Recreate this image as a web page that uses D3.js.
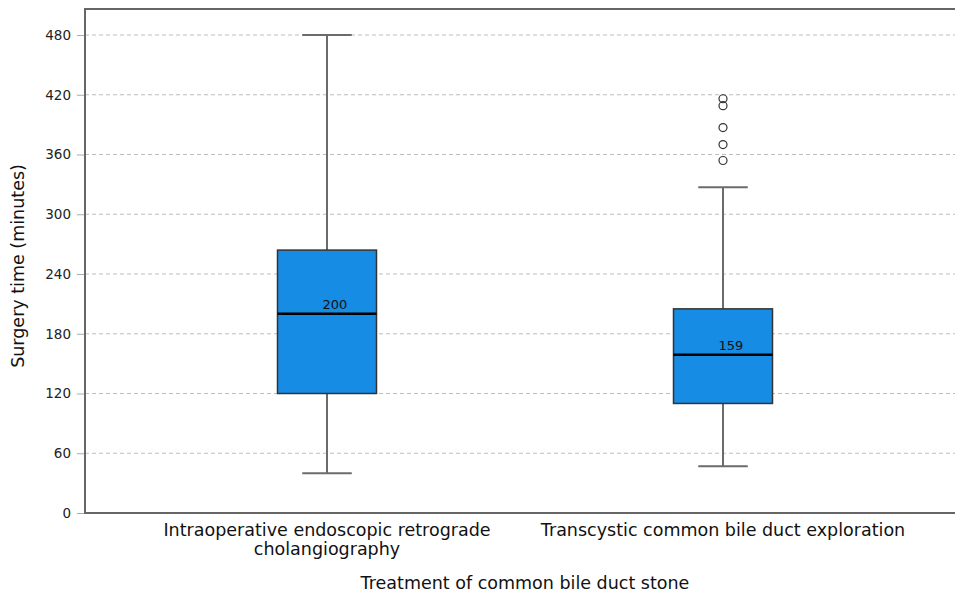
<!DOCTYPE html>
<html><head><meta charset="utf-8">
<script src="https://cdn.jsdelivr.net/npm/d3@7"></script>
<style>body{margin:0;background:#fff}svg{display:block}</style>
</head><body>
<script>
const categories = [["Intraoperative endoscopic retrograde","cholangiography"],["Transcystic common bile duct exploration"]];
const q1 = [120, 110];
const median = [200, 159];
const q3 = [264, 205];
const whiskerLow = [40, 47];
const whiskerHigh = [480, 327];
const outliers = [[], [416, 409, 387, 370, 354]];
const yTicks = [0, 60, 120, 180, 240, 300, 360, 420, 480];

const W = 955, H = 595;
const svg = d3.select("body").append("svg").attr("width", W).attr("height", H);
const font = "'DejaVu Sans', sans-serif";
const pLeft = 85, pTop = 9, pBottom = 513, pRight = 956;
const y = d3.scaleLinear().domain([0, 480]).range([pBottom, 35]);
const x = d3.scaleBand().domain(d3.range(categories.length)).range([129, 921]).paddingInner(0.75).paddingOuter(0.375);

// grid
svg.append("g").selectAll("line").data(yTicks.filter(d => d > 0)).join("line")
  .attr("x1", pLeft).attr("x2", pRight).attr("y1", d => y(d)).attr("y2", d => y(d))
  .attr("stroke", "#bdbdbd").attr("stroke-width", 1).attr("stroke-dasharray", "4,3");

// y axis
const yAxis = d3.axisLeft(y).tickValues(yTicks).tickSize(8).tickPadding(6);
const ga = svg.append("g").attr("transform", `translate(${pLeft},0)`).call(yAxis);
ga.select(".domain").remove();
ga.selectAll(".tick line").attr("stroke", "#aaa");
ga.selectAll(".tick text").attr("font-family", font).attr("font-size", 13.5).attr("fill", "#222");

// frame
svg.append("path").attr("d", `M${pRight},${pTop}H${pLeft}V${pBottom}H${pRight}`)
  .attr("fill", "none").attr("stroke", "#666").attr("stroke-width", 2);

// boxes
const g = svg.append("g");
categories.forEach((c, i) => {
  const cx = x(i) + x.bandwidth() / 2, bw = x.bandwidth();
  const cap = bw / 2;
  const wc = "#6b6b6b";
  g.append("line").attr("x1", cx).attr("x2", cx).attr("y1", y(whiskerHigh[i])).attr("y2", y(q3[i])).attr("stroke", wc).attr("stroke-width", 2);
  g.append("line").attr("x1", cx).attr("x2", cx).attr("y1", y(q1[i])).attr("y2", y(whiskerLow[i])).attr("stroke", wc).attr("stroke-width", 2);
  g.append("line").attr("x1", cx - cap/2).attr("x2", cx + cap/2).attr("y1", y(whiskerHigh[i])).attr("y2", y(whiskerHigh[i])).attr("stroke", wc).attr("stroke-width", 2);
  g.append("line").attr("x1", cx - cap/2).attr("x2", cx + cap/2).attr("y1", y(whiskerLow[i])).attr("y2", y(whiskerLow[i])).attr("stroke", wc).attr("stroke-width", 2);
  g.append("rect").attr("x", x(i)).attr("width", bw).attr("y", y(q3[i])).attr("height", y(q1[i]) - y(q3[i]))
    .attr("fill", "#168ce5").attr("stroke", "#333").attr("stroke-width", 1.5);
  g.append("line").attr("x1", x(i)).attr("x2", x(i) + bw).attr("y1", y(median[i])).attr("y2", y(median[i])).attr("stroke", "#000").attr("stroke-width", 2.5);
  g.append("text").attr("x", cx + 8).attr("y", y(median[i]) - 5).attr("text-anchor", "middle")
    .attr("font-family", font).attr("font-size", 13).attr("fill", "#111").text(median[i]);
  g.selectAll(null).data(outliers[i]).join("circle").attr("cx", cx).attr("cy", d => y(d)).attr("r", 4)
    .attr("fill", "none").attr("stroke", "#333").attr("stroke-width", 1.2);
  const t = g.append("text").attr("x", cx).attr("y", 536).attr("text-anchor", "middle")
    .attr("font-family", font).attr("font-size", 17.5).attr("fill", "#111");
  c.forEach((line, k) => t.append("tspan").attr("x", cx).attr("dy", k === 0 ? 0 : 19).text(line));
});

svg.append("text").attr("x", 525).attr("y", 589).attr("text-anchor", "middle")
  .attr("font-family", font).attr("font-size", 17.5).attr("fill", "#111").text("Treatment of common bile duct stone");
svg.append("text").attr("transform", "translate(24,266) rotate(-90)").attr("text-anchor", "middle")
  .attr("font-family", font).attr("font-size", 17.5).attr("fill", "#111").text("Surgery time (minutes)");
</script>
</body></html>
